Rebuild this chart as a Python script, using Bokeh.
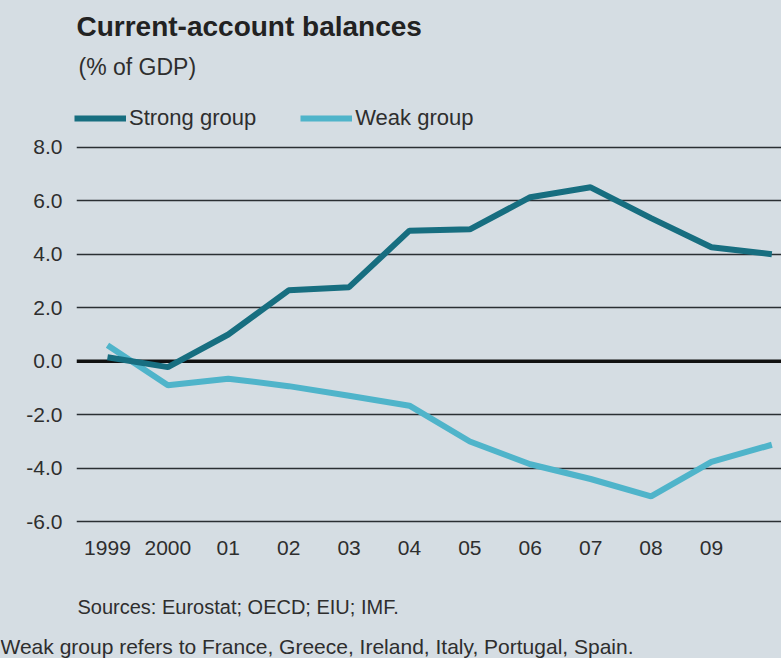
from bokeh.plotting import figure
from bokeh.layouts import column
from bokeh.models import (Range1d, FixedTicker, PrintfTickFormatter, Span, Label,
                          Legend, LegendItem)
from bokeh.embed import file_html
from bokeh.resources import INLINE

# ---- data ----
years = [1999, 2000, 2001, 2002, 2003, 2004, 2005, 2006, 2007, 2008, 2009, 2010]
strong_group = [0.15, -0.22, 1.0, 2.65, 2.77, 4.88, 4.93, 6.13, 6.5, 5.35, 4.26, 4.0]
weak_group = [0.6, -0.9, -0.65, -0.93, -1.29, -1.66, -3.0, -3.85, -4.4, -5.05, -3.76, -3.12]
x_tick_years = [1999, 2000, 2001, 2002, 2003, 2004, 2005, 2006, 2007, 2008, 2009]
x_tick_labels = ["1999", "2000", "01", "02", "03", "04", "05", "06", "07", "08", "09"]
y_ticks = [-6, -4, -2, 0, 2, 4, 6, 8]
series_names = ["Strong group", "Weak group"]

title_text = "Current-account balances"
subtitle_text = "(% of GDP)"
source_text = "Sources: Eurostat; OECD; EIU; IMF."
note_text = "Weak group refers to France, Greece, Ireland, Italy, Portugal, Spain."

BG = "#d5dde3"
STRONG = "#176e80"
WEAK = "#4fb4ca"
FONT = "Liberation Sans"
TXT = "#2e2e2e"

W = 781
TOP_H = 136
MAIN_H = 432
BOT_H = 90


def blank(h, y0):
    f = figure(width=W, height=h, output_backend="svg", toolbar_location=None,
               x_range=Range1d(0, W), y_range=Range1d(y0 + h, y0),
               x_axis_type=None, y_axis_type=None, min_border=0,
               background_fill_color=BG, border_fill_color=BG,
               outline_line_color=None, frame_align=False,
               styles={"background-color": BG})
    f.grid.visible = False
    return f


def lab(f, text, x, y, size, bold=False, color=TXT):
    f.add_layout(Label(x=x, y=y, text=text, text_font=FONT, text_font_size=size,
                       text_color=color,
                       text_font_style="bold" if bold else "normal",
                       text_baseline="middle", text_align="left"))


# ---- header ----
top = blank(TOP_H, 0)
lab(top, title_text, 76, 26, "28px", bold=True, color="#222222")
lab(top, subtitle_text, 78, 66, "23px")
nan = float("nan")
leg_strong = top.line([nan, nan], [nan, nan], line_color=STRONG, line_width=6)
leg_weak = top.line([nan, nan], [nan, nan], line_color=WEAK, line_width=6)
legend = Legend(items=[LegendItem(label=series_names[0], renderers=[leg_strong]),
                       LegendItem(label=series_names[1], renderers=[leg_weak])],
                orientation="horizontal", location=(74, 5),
                glyph_width=52, glyph_height=20, label_standoff=3, spacing=44,
                padding=0, margin=0, border_line_color=None,
                background_fill_alpha=0, label_text_font=FONT,
                label_text_font_size="22px", label_text_color=TXT)
top.add_layout(legend, "center")

# ---- main chart ----
p = figure(width=W, height=MAIN_H, output_backend="svg", toolbar_location=None,
           x_range=Range1d(1998.487, 2010.16), y_range=Range1d(-6.1, 8.1),
           min_border_left=76, min_border_right=0, min_border_top=8,
           min_border_bottom=44, background_fill_color=BG,
           border_fill_color=BG, outline_line_color=None, frame_align=False,
           styles={"background-color": BG})

p.xaxis.ticker = FixedTicker(ticks=x_tick_years)
p.xaxis.major_label_overrides = {y: l for y, l in zip(x_tick_years, x_tick_labels)}
p.yaxis.ticker = FixedTicker(ticks=y_ticks)
p.yaxis.formatter = PrintfTickFormatter(format="%.1f")
for ax in (p.xaxis[0], p.yaxis[0]):
    ax.axis_line_color = None
    ax.major_tick_line_color = None
    ax.minor_tick_line_color = None
    ax.major_label_text_font = FONT
    ax.major_label_text_font_size = "21px"
    ax.major_label_text_color = TXT
p.yaxis.major_label_standoff = 8
p.xaxis.major_label_standoff = 10

p.xgrid.grid_line_color = None
p.ygrid.ticker = FixedTicker(ticks=[t for t in y_ticks if t != 0])
p.ygrid.grid_line_color = "#2a2f33"
p.ygrid.grid_line_width = 1.4

p.add_layout(Span(location=0, dimension="width", line_color="#111111",
                  line_width=3.5, level="underlay"))

p.line(years, weak_group, line_color=WEAK, line_width=6)
p.line(years, strong_group, line_color=STRONG, line_width=6)

# ---- footer ----
bot = blank(BOT_H, TOP_H + MAIN_H)
lab(bot, source_text, 77, 606, "20px")
lab(bot, note_text, 0, 646, "21px")

layout = column(top, p, bot, spacing=0, styles={"background-color": BG})
open("out.html", "w").write(file_html(layout, INLINE))
